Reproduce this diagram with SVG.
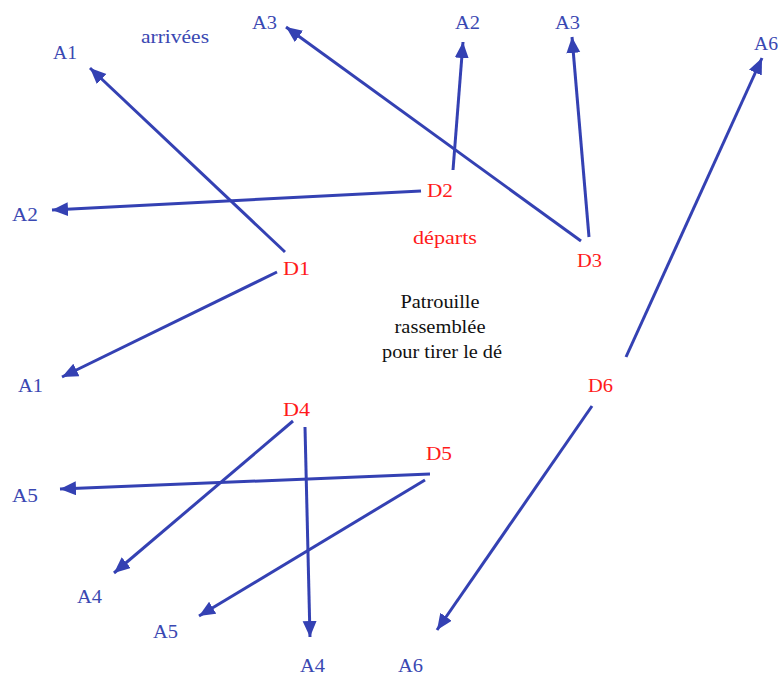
<svg xmlns="http://www.w3.org/2000/svg" width="778" height="677" viewBox="0 0 778 677">
<style>
text{font-family:"Liberation Serif","Times New Roman",serif;font-size:18px}
.a{fill:#3a48b2}
.d{fill:#ff1a1a}
.t{fill:#111}
.c line{stroke:#3441b3;stroke-width:3;fill:none;marker-end:url(#ah)}
</style>
<defs>
<marker id="ah" markerUnits="userSpaceOnUse" markerWidth="18" markerHeight="16" refX="16" refY="7" orient="auto">
<path d="M0,0 L16,7 L0,14 z" fill="#3441b3"/>
</marker>
</defs>
<rect width="778" height="677" fill="#fff"/>
<g id="connectors" class="c">
<line x1="285" y1="252" x2="90" y2="68"/>
<line x1="421" y1="191" x2="52" y2="210"/>
<line x1="581" y1="241" x2="286" y2="27"/>
<line x1="453" y1="170" x2="463" y2="42"/>
<line x1="589" y1="237" x2="572" y2="37"/>
<line x1="626" y1="357" x2="762" y2="58"/>
<line x1="277" y1="272" x2="62" y2="377"/>
<line x1="592" y1="406" x2="437" y2="630"/>
<line x1="293" y1="421" x2="114" y2="573"/>
<line x1="305" y1="427" x2="310" y2="637"/>
<line x1="430" y1="474" x2="60" y2="489"/>
<line x1="425" y1="480" x2="199" y2="616"/>
</g>
<g id="n-arrivees"><text class="a" x="141" y="43" textLength="68" lengthAdjust="spacingAndGlyphs">arrivées</text></g>
<g id="n-departs"><text class="d" x="413" y="244" textLength="64" lengthAdjust="spacingAndGlyphs">départs</text></g>
<g id="n-patrouille">
<text class="t" x="440" y="308" text-anchor="middle" textLength="79" lengthAdjust="spacingAndGlyphs">Patrouille</text>
<text class="t" x="440" y="333" text-anchor="middle" textLength="91" lengthAdjust="spacingAndGlyphs">rassemblée</text>
<text class="t" x="442" y="358" text-anchor="middle" textLength="120" lengthAdjust="spacingAndGlyphs">pour tirer le dé</text>
</g>
<g id="n-D1"><text class="d" x="283" y="275" textLength="27" lengthAdjust="spacingAndGlyphs">D1</text></g>
<g id="n-D2"><text class="d" x="427" y="197" textLength="26" lengthAdjust="spacingAndGlyphs">D2</text></g>
<g id="n-D3"><text class="d" x="577" y="267" textLength="25" lengthAdjust="spacingAndGlyphs">D3</text></g>
<g id="n-D4"><text class="d" x="283" y="416" textLength="27" lengthAdjust="spacingAndGlyphs">D4</text></g>
<g id="n-D5"><text class="d" x="426" y="460" textLength="26" lengthAdjust="spacingAndGlyphs">D5</text></g>
<g id="n-D6"><text class="d" x="588" y="392" textLength="25" lengthAdjust="spacingAndGlyphs">D6</text></g>
<g id="n-A1-top"><text class="a" x="53" y="59" textLength="24" lengthAdjust="spacingAndGlyphs">A1</text></g>
<g id="n-A3-top"><text class="a" x="252" y="29" textLength="25" lengthAdjust="spacingAndGlyphs">A3</text></g>
<g id="n-A2-top"><text class="a" x="455" y="29" textLength="25" lengthAdjust="spacingAndGlyphs">A2</text></g>
<g id="n-A3-right"><text class="a" x="555" y="29" textLength="25" lengthAdjust="spacingAndGlyphs">A3</text></g>
<g id="n-A6-top"><text class="a" x="754" y="50" textLength="24" lengthAdjust="spacingAndGlyphs">A6</text></g>
<g id="n-A2-left"><text class="a" x="12" y="221" textLength="26" lengthAdjust="spacingAndGlyphs">A2</text></g>
<g id="n-A1-left"><text class="a" x="18" y="392" textLength="25" lengthAdjust="spacingAndGlyphs">A1</text></g>
<g id="n-A5-left"><text class="a" x="12" y="502" textLength="26" lengthAdjust="spacingAndGlyphs">A5</text></g>
<g id="n-A4-left"><text class="a" x="77" y="603" textLength="25" lengthAdjust="spacingAndGlyphs">A4</text></g>
<g id="n-A5-bottom"><text class="a" x="153" y="638" textLength="25" lengthAdjust="spacingAndGlyphs">A5</text></g>
<g id="n-A4-bottom"><text class="a" x="300" y="672" textLength="25" lengthAdjust="spacingAndGlyphs">A4</text></g>
<g id="n-A6-bottom"><text class="a" x="398" y="672" textLength="25" lengthAdjust="spacingAndGlyphs">A6</text></g>
</svg>
